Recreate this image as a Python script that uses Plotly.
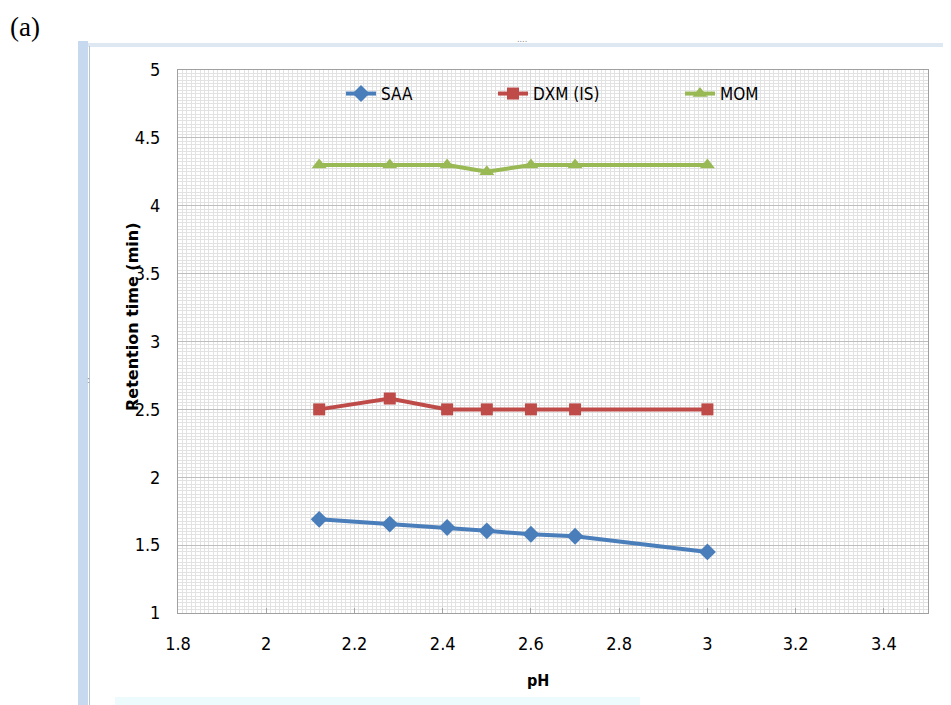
import plotly.graph_objects as go

ph = [2.12, 2.28, 2.41, 2.5, 2.6, 2.7, 3.0]
saa = [1.69, 1.655, 1.63, 1.605, 1.58, 1.565, 1.45]
dxm = [2.5, 2.58, 2.5, 2.5, 2.5, 2.5, 2.5]
mom = [4.3, 4.3, 4.3, 4.25, 4.3, 4.3, 4.3]
x_ticks = [1.8, 2, 2.2, 2.4, 2.6, 2.8, 3, 3.2, 3.4]
x_tick_text = ["1.8", "2", "2.2", "2.4", "2.6", "2.8", "3", "3.2", "3.4"]
y_ticks = [1, 1.5, 2, 2.5, 3, 3.5, 4, 4.5, 5]
y_tick_text = ["1", "1.5", "2", "2.5", "3", "3.5", "4", "4.5", "5"]

# page is 951x705; the figure sits at (8, 8) because of the default body margin
OX, OY = 8, 8
W, H = 951 - OX, 705 - OY
L, R, T, B = 178, 928, 70, 613   # plot area in page pixels
NARROW = "DejaVu Sans Condensed, DejaVu Sans, sans-serif"


def px(x):
    return (x - OX) / W


def py(y):
    return 1 - (y - OY) / H


fig = go.Figure()
series = [
    ("SAA", saa, "#4A7EBB", "diamond", 13, "legend"),
    ("DXM (IS)", dxm, "#BE4B48", "square", 12, "legend2"),
    ("MOM", mom, "#98B954", "triangle-up", 13, "legend3"),
]
for name, vals, col, sym, size, lg in series:
    fig.add_trace(go.Scatter(
        x=ph, y=vals, name=name, mode="lines+markers",
        line=dict(color=col, width=4),
        marker=dict(symbol=sym, size=size, color=col),
        legend=lg,
    ))

legend_common = dict(orientation="h", bgcolor="rgba(0,0,0,0)",
                     font=dict(family=NARROW, size=17, color="#000"),
                     xanchor="left", yanchor="middle", itemwidth=30)

fig.update_layout(
    width=W, height=H,
    margin=dict(l=0, r=0, t=0, b=0, autoexpand=False),
    paper_bgcolor="white",
    plot_bgcolor="white",
    showlegend=True,
    legend=dict(x=px(341), y=py(94), **legend_common),
    legend2=dict(x=px(493), y=py(94), **legend_common),
    legend3=dict(x=px(680), y=py(94), **legend_common),
    xaxis=dict(
        domain=[px(L), px(R)], range=[1.8, 3.5], automargin=False,
        tickvals=x_ticks, ticktext=x_tick_text,
        tickfont=dict(family=NARROW, size=18, color="#000"),
        ticks="inside", ticklen=5, tickcolor="#a6a6a6",
        ticklabelstandoff=14,
        showgrid=True, gridcolor="#dadada", gridwidth=1,
        minor=dict(dtick=0.01, showgrid=True, gridcolor="#e2e2e2", gridwidth=1),
        showline=True, linecolor="#a0a0a0", linewidth=1, mirror=True,
        zeroline=False, fixedrange=True,
    ),
    yaxis=dict(
        domain=[py(B), py(T)], range=[1, 5], automargin=False,
        tickvals=y_ticks, ticktext=y_tick_text,
        tickfont=dict(family=NARROW, size=18, color="#000"),
        ticks="", ticklabelstandoff=13,
        showgrid=True, gridcolor="#bdbdbd", gridwidth=1,
        minor=dict(dtick=0.025, showgrid=True, gridcolor="#e2e2e2", gridwidth=1),
        showline=True, linecolor="#a0a0a0", linewidth=1, mirror=True,
        zeroline=False, fixedrange=True,
    ),
)

# axis titles
fig.add_annotation(x=px(132), y=py(317), xref="paper", yref="paper",
                   xanchor="center", yanchor="middle",
                   text="<b>Retention time (min)</b>", textangle=-90, showarrow=False,
                   font=dict(family="DejaVu Sans, sans-serif", size=16, color="#000"))
fig.add_annotation(x=px(538), y=py(680), xref="paper", yref="paper",
                   xanchor="center", yanchor="middle",
                   text="<b>pH</b>", showarrow=False,
                   font=dict(family=NARROW, size=16, color="#000"))
# panel label
fig.add_annotation(x=px(8), y=py(27), xref="paper", yref="paper",
                   xanchor="left", yanchor="middle",
                   text="(a)", showarrow=False,
                   font=dict(family="Liberation Serif, Times New Roman, serif", size=27, color="#000"))

# window frame decorations
fig.add_shape(type="rect", xref="paper", yref="paper",
              x0=px(78), x1=px(88), y0=py(705), y1=py(41),
              fillcolor="#c6d9ee", line=dict(width=0), layer="below")
fig.add_shape(type="rect", xref="paper", yref="paper",
              x0=px(88), x1=px(951), y0=py(47), y1=py(43),
              fillcolor="#dde8f2", line=dict(width=0), layer="below")
fig.add_shape(type="line", xref="paper", yref="paper",
              x0=px(89.5), x1=px(89.5), y0=py(705), y1=py(46),
              line=dict(color="#b8c4cf", width=1), layer="below")
fig.add_shape(type="rect", xref="paper", yref="paper",
              x0=px(115), x1=px(640), y0=py(705), y1=py(697),
              fillcolor="#eefbfd", line=dict(width=0), layer="below")
fig.add_annotation(x=px(522), y=py(40), xref="paper", yref="paper",
                   xanchor="center", yanchor="middle",
                   text="....", showarrow=False,
                   font=dict(family="DejaVu Sans", size=8, color="#888"))
fig.add_annotation(x=px(88), y=py(380), xref="paper", yref="paper",
                   xanchor="center", yanchor="middle",
                   text=":", showarrow=False,
                   font=dict(family="DejaVu Sans", size=9, color="#888"))

fig.write_html("out.html")
